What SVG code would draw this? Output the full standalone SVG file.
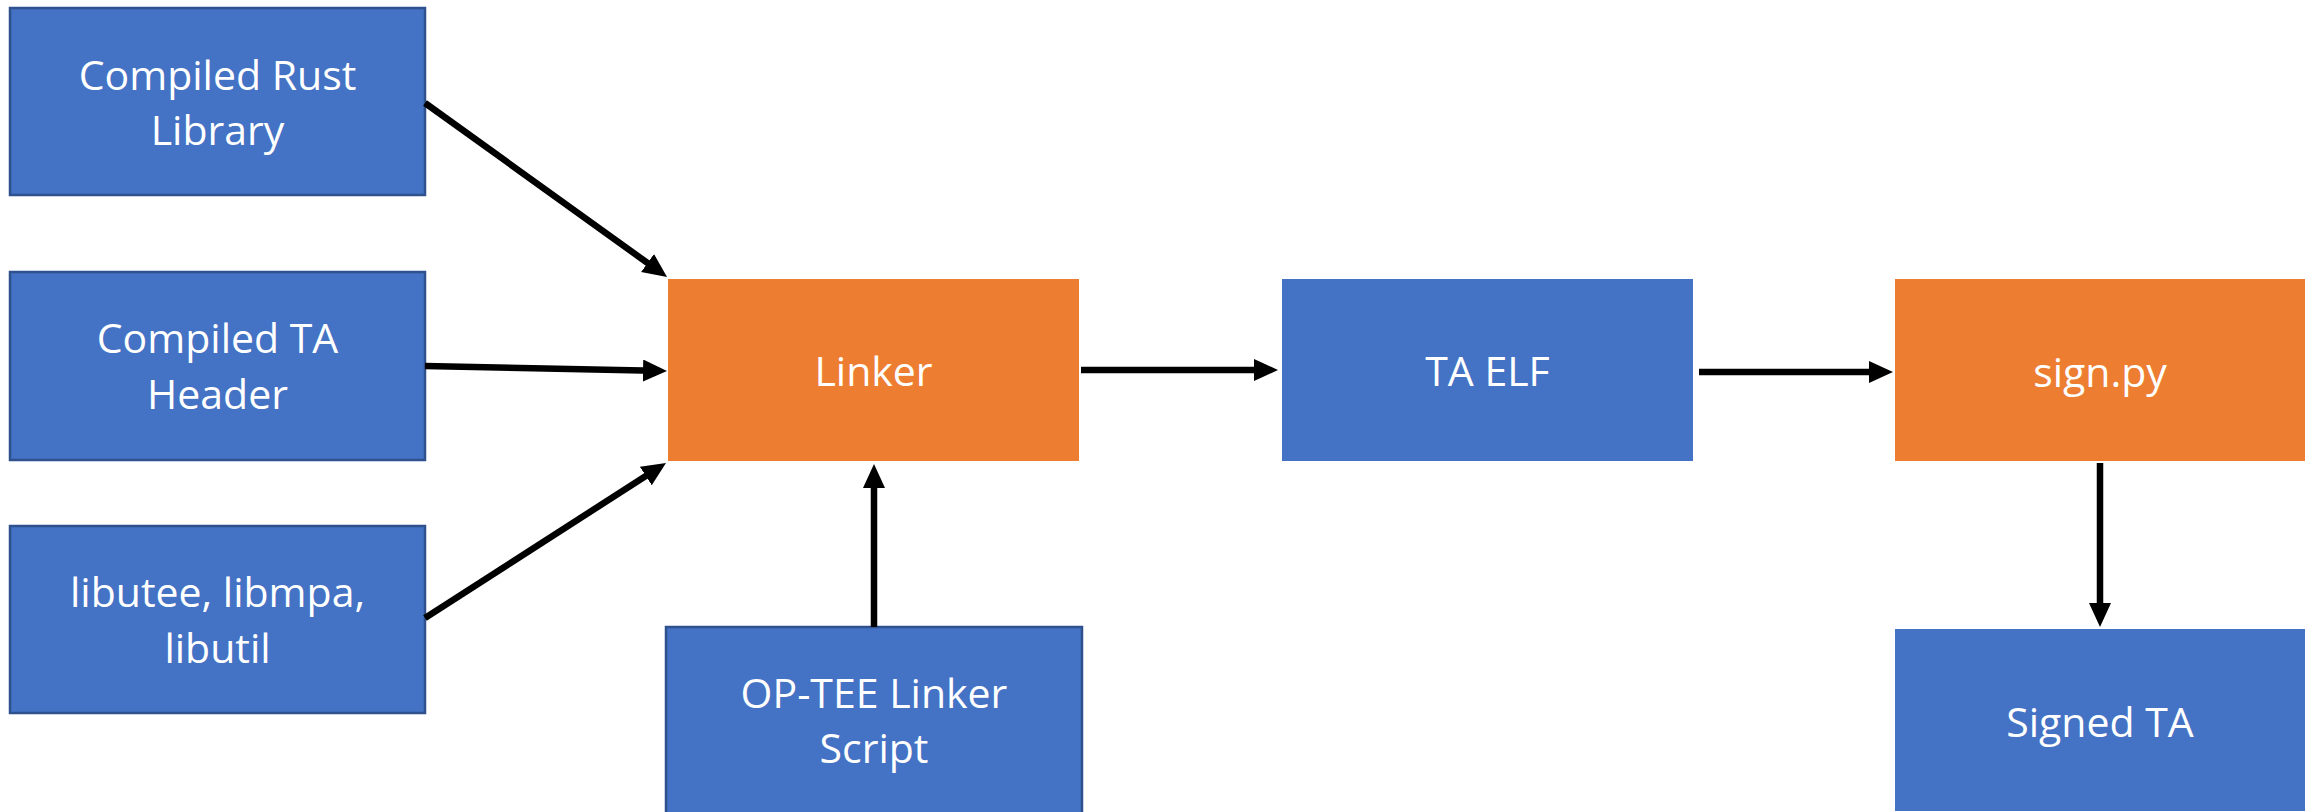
<svg xmlns="http://www.w3.org/2000/svg" width="2318" height="812" viewBox="0 0 2318 812">
<defs>
<style>
.blue{fill:#4472C4}
.bord{stroke:#2F528F;stroke-width:2.5}
.orange{fill:#ED7D31}
.t{font-family:"Open Sans","Liberation Sans",sans-serif;font-size:41px;fill:#FFFFFF;text-anchor:middle}
.c{stroke:#000;stroke-width:6.5;fill:none;marker-end:url(#ah)}
</style>
<marker id="ah" markerUnits="userSpaceOnUse" markerWidth="26" markerHeight="24" refX="12" refY="11" orient="auto">
<path d="M0,0 L24,11 L0,22 z" fill="#000"/>
</marker>
</defs>
<rect width="2318" height="812" fill="#FFFFFF"/>
<g id="rust">
<rect class="blue bord" x="10" y="8" width="415" height="187"/>
<text class="t" x="217.5" y="90">Compiled Rust</text>
<text class="t" x="217.5" y="145">Library</text>
</g>
<g id="header">
<rect class="blue bord" x="10" y="272" width="415" height="188"/>
<text class="t" x="217.5" y="353">Compiled TA</text>
<text class="t" x="217.5" y="409">Header</text>
</g>
<g id="libs">
<rect class="blue bord" x="10" y="526" width="415" height="187"/>
<text class="t" x="217.5" y="607">libutee, libmpa,</text>
<text class="t" x="217.5" y="663">libutil</text>
</g>
<g id="linker">
<rect class="orange" x="668" y="279" width="411" height="182"/>
<text class="t" x="873.5" y="386">Linker</text>
</g>
<g id="script">
<rect class="blue bord" x="666" y="627" width="416" height="200"/>
<text class="t" x="874" y="708">OP-TEE Linker</text>
<text class="t" x="874" y="763">Script</text>
</g>
<g id="elf">
<rect class="blue" x="1282" y="279" width="411" height="182"/>
<text class="t" x="1487.5" y="386">TA ELF</text>
</g>
<g id="sign">
<rect class="orange" x="1895" y="279" width="410" height="182"/>
<text class="t" x="2100" y="387">sign.py</text>
</g>
<g id="signed">
<rect class="blue" x="1895" y="629" width="410" height="182"/>
<text class="t" x="2100" y="737">Signed TA</text>
</g>
<g id="connectors">
<line class="c" x1="425" y1="103" x2="657.3" y2="270"/>
<line class="c" x1="425" y1="366" x2="655" y2="370.75"/>
<line class="c" x1="425" y1="618" x2="655.9" y2="469.5"/>
<line class="c" x1="874" y1="627" x2="874" y2="476"/>
<line class="c" x1="1081" y1="370" x2="1266" y2="370"/>
<line class="c" x1="1699" y1="372" x2="1881" y2="372"/>
<line class="c" x1="2100" y1="463" x2="2100" y2="615"/>
</g>
</svg>
